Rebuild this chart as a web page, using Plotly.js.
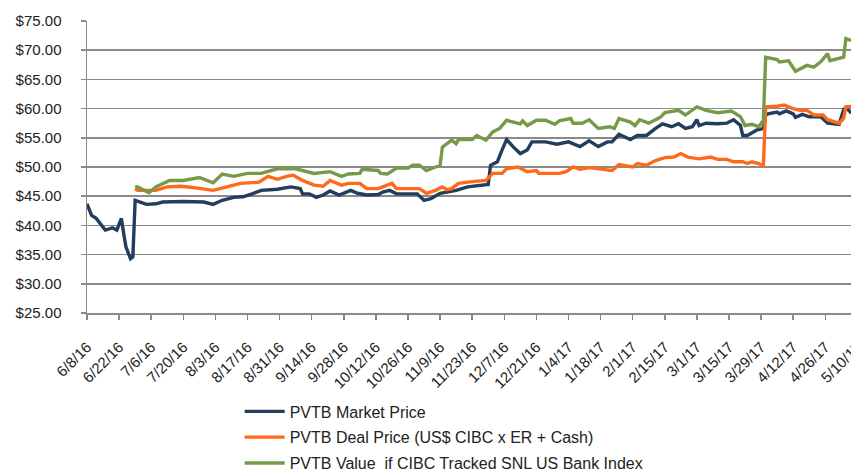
<!DOCTYPE html>
<html>
<head>
<meta charset="utf-8">
<script src="https://cdn.plot.ly/plotly-3.0.1.min.js"></script>
<style>
html, body { margin: 0; padding: 0; overflow: hidden; background: #fff; }
#chart { width: 880px; height: 470px; }
</style>
</head>
<body>
<div id="chart"></div>
<script>
// ---- Data ----
const seriesNames = [
  "PVTB Market Price",
  "PVTB Deal Price (US$ CIBC x ER + Cash)",
  "PVTB Value  if CIBC Tracked SNL US Bank Index"
];

const marketDates = [
  "2016-06-08","2016-06-10","2016-06-12","2016-06-14","2016-06-16","2016-06-17","2016-06-19","2016-06-21",
  "2016-06-23","2016-06-24","2016-06-25","2016-06-27","2016-06-28","2016-06-29","2016-07-01","2016-07-04",
  "2016-07-08","2016-07-11","2016-07-20","2016-07-29","2016-08-02","2016-08-06","2016-08-11","2016-08-15",
  "2016-08-19","2016-08-23","2016-08-30","2016-09-05","2016-09-09","2016-09-10","2016-09-13","2016-09-16",
  "2016-09-19","2016-09-22","2016-09-26","2016-09-29","2016-10-01","2016-10-04","2016-10-08","2016-10-13",
  "2016-10-15","2016-10-18","2016-10-21","2016-10-26","2016-10-30","2016-11-02","2016-11-05","2016-11-09",
  "2016-11-12","2016-11-16","2016-11-21","2016-11-26","2016-11-30","2016-12-01","2016-12-04","2016-12-06",
  "2016-12-08","2016-12-11","2016-12-14","2016-12-17","2016-12-19","2016-12-25","2016-12-30","2017-01-04",
  "2017-01-09","2017-01-13","2017-01-17","2017-01-21","2017-01-23","2017-01-26","2017-01-31","2017-02-03",
  "2017-02-07","2017-02-11","2017-02-14","2017-02-18","2017-02-21","2017-02-24","2017-02-27","2017-03-01",
  "2017-03-02","2017-03-05","2017-03-10","2017-03-14","2017-03-17","2017-03-20","2017-03-21","2017-03-23",
  "2017-03-27","2017-03-30","2017-03-31","2017-04-01","2017-04-05","2017-04-06","2017-04-09","2017-04-12",
  "2017-04-13","2017-04-16","2017-04-19","2017-04-24","2017-04-27","2017-05-02","2017-05-04","2017-05-05",
  "2017-05-07","2017-05-09"
];
const marketPrice = [
  43.7,41.7,41.2,40.3,39.2,39.3,39.6,39.2,
  41.2,38.6,36.3,34.3,34.6,44.3,44.0,43.6,
  43.7,44.0,44.1,44.0,43.6,44.3,44.8,44.9,
  45.4,46.0,46.2,46.6,46.3,45.4,45.4,44.8,
  45.2,45.9,45.2,45.7,46.0,45.5,45.2,45.3,
  45.7,46.0,45.4,45.4,45.4,44.3,44.6,45.5,
  45.7,46.0,46.6,46.9,47.0,50.3,50.9,52.9,
  54.7,53.4,52.3,52.9,54.3,54.3,53.9,54.3,
  53.5,54.5,53.5,54.3,54.3,55.6,54.7,55.4,
  55.4,56.6,57.4,56.9,57.4,56.6,56.9,58.1,
  57.1,57.5,57.4,57.5,58.1,57.1,55.4,55.4,
  56.3,56.6,58.9,59.1,59.4,59.1,59.6,59.1,
  58.5,59.0,58.6,58.6,57.5,57.3,59.8,60.2,
  59.4,59.2
];

const dealDates = [
  "2016-06-29","2016-06-30","2016-07-04","2016-07-08","2016-07-13","2016-07-19","2016-07-24","2016-08-02",
  "2016-08-08","2016-08-14","2016-08-22","2016-08-26","2016-08-30","2016-09-03","2016-09-06","2016-09-10",
  "2016-09-15","2016-09-19","2016-09-22","2016-09-27","2016-09-30","2016-10-05","2016-10-08","2016-10-13",
  "2016-10-17","2016-10-19","2016-10-21","2016-10-26","2016-10-31","2016-11-03","2016-11-07","2016-11-10",
  "2016-11-12","2016-11-14","2016-11-17","2016-11-23","2016-11-29","2016-12-02","2016-12-06","2016-12-08",
  "2016-12-13","2016-12-17","2016-12-21","2016-12-22","2016-12-31","2017-01-03","2017-01-06","2017-01-09",
  "2017-01-13","2017-01-19","2017-01-23","2017-01-26","2017-02-01","2017-02-03","2017-02-07","2017-02-11",
  "2017-02-15","2017-02-19","2017-02-22","2017-02-25","2017-03-02","2017-03-07","2017-03-10","2017-03-14",
  "2017-03-17","2017-03-21","2017-03-23","2017-03-25","2017-03-28","2017-03-30","2017-03-31","2017-04-05",
  "2017-04-08","2017-04-12","2017-04-15","2017-04-18","2017-04-21","2017-04-25","2017-04-27","2017-05-02",
  "2017-05-04","2017-05-05","2017-05-07","2017-05-09"
];
const dealPrice = [
  46.3,46.0,46.0,46.0,46.6,46.7,46.5,46.0,
  46.6,47.2,47.4,48.4,47.9,48.4,48.6,47.7,
  46.9,46.7,47.7,46.9,47.2,47.2,46.3,46.3,
  46.9,47.2,46.3,46.3,46.3,45.5,46.0,46.6,
  46.1,46.3,47.2,47.5,47.7,48.9,48.9,49.7,
  50.0,49.2,49.4,48.9,48.9,49.2,50.0,49.6,
  49.9,49.6,49.4,50.4,50.0,50.6,50.3,51.1,
  51.6,51.7,52.3,51.7,51.4,51.7,51.3,51.3,
  50.9,50.9,50.6,50.9,50.6,50.1,60.3,60.4,
  60.6,60.0,59.7,59.7,58.9,58.9,58.1,57.5,
  58.3,60.3,60.4,60.4
];

const indexDates = [
  "2016-06-29","2016-06-30","2016-07-05","2016-07-08","2016-07-14","2016-07-20","2016-07-27","2016-08-02",
  "2016-08-06","2016-08-11","2016-08-17","2016-08-23","2016-08-30","2016-09-03","2016-09-07","2016-09-15",
  "2016-09-22","2016-09-27","2016-09-30","2016-10-05","2016-10-06","2016-10-13","2016-10-14","2016-10-17",
  "2016-10-21","2016-10-26","2016-10-28","2016-10-31","2016-11-03","2016-11-07","2016-11-09","2016-11-10",
  "2016-11-14","2016-11-16","2016-11-17","2016-11-23","2016-11-25","2016-11-29","2016-12-02","2016-12-05",
  "2016-12-08","2016-12-14","2016-12-15","2016-12-17","2016-12-21","2016-12-25","2016-12-29","2016-12-31",
  "2017-01-05","2017-01-06","2017-01-10","2017-01-13","2017-01-17","2017-01-22","2017-01-24","2017-01-26",
  "2017-01-31","2017-02-02","2017-02-04","2017-02-08","2017-02-13","2017-02-15","2017-02-21","2017-02-24",
  "2017-03-01","2017-03-05","2017-03-10","2017-03-16","2017-03-20","2017-03-22","2017-03-25","2017-03-28",
  "2017-03-30","2017-03-31","2017-04-05","2017-04-06","2017-04-10","2017-04-13","2017-04-18","2017-04-21",
  "2017-04-24","2017-04-27","2017-04-28","2017-05-04","2017-05-05","2017-05-07","2017-05-09"
];
const indexValue = [
  46.5,46.6,45.6,46.6,47.7,47.7,48.2,47.3,
  48.8,48.4,48.9,48.9,49.7,49.7,49.7,48.9,
  49.2,48.4,48.8,48.9,49.6,49.4,48.9,48.8,
  49.8,49.8,50.3,50.3,49.4,50.0,50.3,53.4,
  54.6,54.0,54.7,54.7,55.4,54.6,56.0,56.6,
  58.0,57.4,57.9,57.1,58.0,58.0,57.3,57.9,
  58.3,57.5,57.5,58.1,56.6,56.9,56.6,58.3,
  57.7,57.1,58.1,57.5,58.5,59.3,59.7,58.9,
  60.3,59.7,59.3,59.6,58.6,57.1,57.3,56.9,
  58.0,68.8,68.4,68.0,68.2,66.4,67.4,67.1,
  68.0,69.4,68.2,68.8,72.0,71.7,71.7
];

// ---- Chart ----
const fontFam = 'Arial, "Liberation Sans", sans-serif';
const colors = ["#233d5c", "#ff6a1a", "#779a48"];

const traces = [
  {x: marketDates, y: marketPrice, name: seriesNames[0], legendgroup: "a"},
  {x: dealDates, y: dealPrice, name: seriesNames[1], legendgroup: "b"},
  {x: indexDates, y: indexValue, name: seriesNames[2], legendgroup: "c"}
].map((t, i) => Object.assign(t, {
  type: "scatter",
  mode: "lines",
  line: {color: colors[i], width: 3.4},
  hoverinfo: "skip"
}));

const layout = {
  width: 880,
  height: 470,
  margin: {l: 87, r: 10, t: 21, b: 157, autoexpand: false},
  paper_bgcolor: "#ffffff",
  plot_bgcolor: "#ffffff",
  font: {family: fontFam, size: 15, color: "#222"},
  showlegend: true,
  legend: {
    orientation: "v",
    x: 0.195, xanchor: "left",
    y: -0.279, yanchor: "top",
    font: {family: fontFam, size: 16, color: "#222"},
    tracegroupgap: 2,
    itemwidth: 40,
    bgcolor: "rgba(0,0,0,0)"
  },
  xaxis: {
    type: "date",
    automargin: false,
    range: ["2016-06-08", "2017-05-15 12:00"],
    tick0: "2016-06-08",
    dtick: 14 * 86400000,
    tickformat: "%-m/%-d/%y",
    tickangle: -45,
    ticks: "outside",
    ticklen: 5,
    tickcolor: "#8a8a8a",
    tickwidth: 1.5,
    ticklabelstandoff: 13,
    showline: true,
    linecolor: "#8a8a8a",
    linewidth: 1.5,
    showgrid: false,
    zeroline: false,
    tickfont: {family: fontFam, size: 15, color: "#222"}
  },
  yaxis: {
    automargin: false,
    range: [25, 75],
    dtick: 5,
    tick0: 25,
    tickprefix: "$",
    tickformat: ".2f",
    ticks: "outside",
    ticklen: 5,
    tickcolor: "#8a8a8a",
    tickwidth: 1.5,
    showline: true,
    linecolor: "#8a8a8a",
    linewidth: 1.5,
    showgrid: true,
    gridcolor: "#8a8a8a",
    gridwidth: 1.5,
    zeroline: false,
    ticklabelstandoff: 16,
    tickfont: {family: fontFam, size: 15, color: "#222"}
  }
};

Plotly.newPlot("chart", traces, layout, {displayModeBar: false, staticPlot: true});
</script>
</body>
</html>
